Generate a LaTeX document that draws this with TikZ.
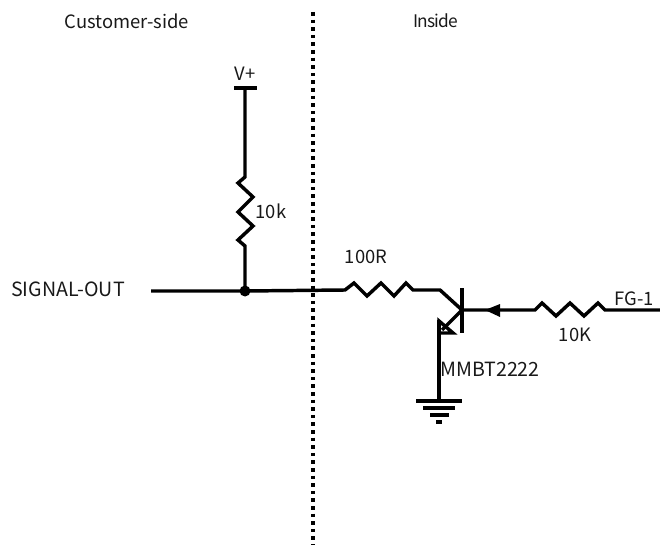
\documentclass[tikz,border=0pt]{standalone}
\usepackage{fontspec}
\setmainfont{Noto Sans CJK JP}
\tikzset{
  wire/.style={line width=2.6pt,line join=miter,black},
  lbl/.style={inner sep=0pt,font=\fontsize{13.8}{16}\selectfont,text=black!90},
  lblwide/.style={inner sep=0pt,font=\fontsize{14.7}{17}\selectfont,text=black!90},
  lblsmall/.style={inner sep=0pt,font=\fontsize{13}{15}\selectfont\addfontfeature{LetterSpace=-5},text=black!90}
}
\begin{document}
\begin{tikzpicture}[x=0.75pt,y=-0.75pt]
\useasboundingbox (0,0) rectangle (660,545);
% labels
\node[lbl] (cust) at (127,21) {Customer-side};
\node[lblsmall] (ins) at (436,21) {Inside};
\node[lbl] (vp) at (245,74) {V+};
\node[lbl] (r1l) at (271,211) {10k};
\node[lblwide] (sig) at (68,289) {SIGNAL-OUT};
\node[lbl] (r2l) at (366,257) {100R};
\node[lbl] (r3l) at (575,335) {10K};
\node[lbl] (fg) at (634,299) {FG-1};
\node[lblwide] (mm) at (490,369) {MMBT2222};
% divider
\coordinate (dt) at (313,12);
\coordinate (db) at (313,545);
\draw[line width=2.7pt,dash pattern=on 2.7pt off 3pt] (dt) -- (db);
% coordinates
\coordinate (vbarL) at (234,88);
\coordinate (vbarR) at (257,88);
\coordinate (vtop) at (245,88);
\coordinate (j) at (245,291);
\coordinate (sigend) at (151,291);
\coordinate (base) at (462,310);
\coordinate (bbT) at (462,288);
\coordinate (bbB) at (462,333);
\coordinate (emit) at (439,320);
\coordinate (gnd) at (439,401);
\coordinate (fgend) at (660,310);
% V+ rail and pull-up
\draw[wire] (vbarL) -- (vbarR);
\draw[wire] (vtop) -- (245,177) -- (238,183) -- (253,197) -- (238,212) -- (253,226) -- (238,240) -- (245,246) -- (j);
\fill (j) circle (5.5);
% signal line and 100R
\draw[wire] (sigend) -- (j) -- (345,290) -- (354,283) -- (367,296) -- (381,283) -- (394,296) -- (406,283) -- (413,290) -- (440,290) -- (base);
% transistor
\draw[wire] (bbT) -- (bbB);
\draw[wire] (base) -- (442,330);
\draw[wire,line join=miter] (439,321) -- (453,333) -- (439,333) -- cycle;
\draw[wire] (emit) -- (gnd);
% base resistor
\draw[wire] (base) -- (535,310) -- (542,303) -- (556,316) -- (570,303) -- (584,316) -- (598,303) -- (605,310) -- (fgend);
\fill (485,310) -- (500,304) -- (500,317) -- cycle;
% ground
\draw[wire] (416,401) -- (462,401);
\draw[wire] (423,408) -- (455,408);
\draw[wire] (430,415) -- (449,415);
\draw[wire] (436,422) -- (442,422);
\end{tikzpicture}
\end{document}
